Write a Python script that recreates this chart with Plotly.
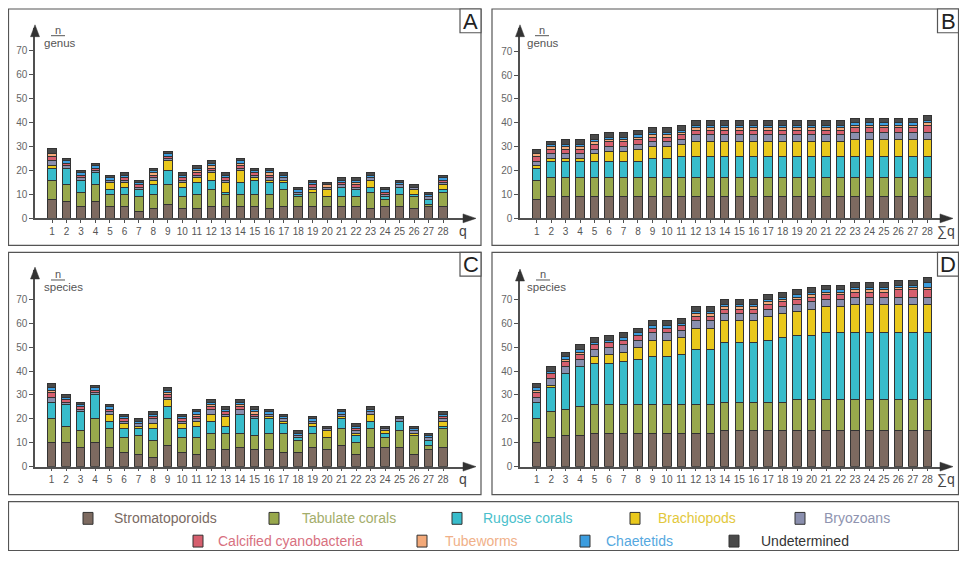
import plotly.graph_objects as go

# page has an 8px body margin; the figure is sized to fit the 967x565 window
OFF = 8
W, H = 951, 549
def fx(p): return (p - OFF) / W
def fy(p): return 1 - (p - OFF) / H

samples = list(range(1, 29))
tick_labels = [str(i) for i in samples]
y_ticks = [0, 10, 20, 30, 40, 50, 60, 70]

categories = ["Stromatoporoids", "Tabulate corals", "Rugose corals", "Brachiopods", "Bryozoans",
              "Calcified cyanobacteria", "Tubeworms", "Chaetetids", "Undetermined"]
bar_colors = ["#7d6a60", "#98a84c", "#38bccb", "#e9c81c", "#8a8fae",
              "#d65f6e", "#f3a979", "#3c9ddf", "#4a4a4a"]
text_colors = ["#7a6a62", "#a3ad6b", "#4bbfcc", "#e2c83c", "#8f94b0",
               "#d87080", "#f0b088", "#55a8e0", "#333333"]

# ---- Panel A: genus per sample (q)
A_strom = [8,7,5,7,5,5,3,4,6,4,4,5,5,5,5,4,5,5,5,5,5,5,4,5,5,4,5,5]
A_tab   = [8,7,6,7,5,5,6,6,8,5,6,7,5,5,5,6,7,4,6,4,4,4,7,3,5,5,1,6]
A_rug   = [5,7,5,5,2,3,3,4,6,4,5,4,1,5,6,5,3,1,0,0,4,3,2,1,3,1,2,1]
A_brach = [1,0,0,0,3,2,0,2,4,2,2,3,4,5,1,1,1,0,1,3,0,0,3,0,0,2,0,2]
A_bryo  = [2,1,1,1,1,1,1,1,1,1,1,1,1,1,1,1,1,1,1,1,1,1,1,1,1,1,1,1]
A_cyano = [2,1,1,1,0,1,1,1,1,1,1,1,1,1,1,1,0,0,1,0,1,1,0,1,0,0,0,1]
A_tube  = [1,0,0,0,0,0,0,1,0,0,1,1,0,1,0,1,0,0,0,1,0,1,0,0,0,0,0,0]
A_chaet = [0,1,1,1,1,1,1,1,1,1,1,1,1,1,1,1,1,1,1,0,1,1,1,1,1,0,1,1]
A_undet = [2,1,1,1,1,1,1,1,1,1,1,1,1,1,1,1,1,1,1,1,1,1,1,1,1,1,1,1]

# ---- Panel B: cumulative genus (sum q)
B_strom = [8,9,9,9,9,9,9,9,9,9,9,9,9,9,9,9,9,9,9,9,9,9,9,9,9,9,9,9]
B_tab   = [8,8,8,8,8,8,8,8,8,8,8,8,8,8,8,8,8,8,8,8,8,8,8,8,8,8,8,8]
B_rug   = [5,7,7,7,7,7,7,7,8,8,9,9,9,9,9,9,9,9,9,9,9,9,9,9,9,9,9,9]
B_brach = [1,1,1,1,3,4,4,5,5,5,5,6,6,6,6,6,6,6,6,6,6,6,7,7,7,7,7,7]
B_bryo  = [2,2,2,2,2,2,2,2,2,2,2,3,3,3,3,3,3,3,3,3,3,3,3,3,3,3,3,3]
B_cyano = [2,2,2,2,2,2,2,2,2,2,2,2,2,2,2,2,2,2,2,2,2,2,2,2,2,2,2,3]
B_tube  = [1,1,1,1,1,1,1,1,1,1,1,1,1,1,1,1,1,1,1,1,1,1,1,1,1,1,1,1]
B_chaet = [0,1,1,1,1,1,1,1,1,1,1,1,1,1,1,1,1,1,1,1,1,1,1,1,1,1,1,1]
B_undet = [2,1,2,2,2,2,2,2,2,2,2,2,2,2,2,2,2,2,2,2,2,2,2,2,2,2,2,2]

# ---- Panel C: species per sample (q)
C_strom = [10,10,8,10,8,6,5,4,9,6,5,7,7,8,7,7,6,6,8,7,9,5,8,8,8,5,7,8]
C_tab   = [10,7,7,10,8,6,8,7,11,6,7,7,7,6,6,7,8,5,6,5,7,5,8,4,7,8,2,8]
C_rug   = [7,9,8,10,3,4,3,5,5,4,5,5,3,8,7,6,4,1,3,0,4,3,3,2,4,0,2,1]
C_brach = [0,0,0,0,3,2,1,2,3,2,2,3,4,0,0,1,1,0,1,3,1,1,3,1,0,1,0,2]
C_bryo  = [2,1,1,1,1,1,1,2,1,1,1,2,1,2,1,1,1,1,1,1,1,1,1,1,1,1,1,1]
C_cyano = [2,1,1,1,1,1,0,1,1,1,1,1,1,1,1,0,0,0,0,0,0,1,0,0,0,0,0,1]
C_tube  = [1,0,0,0,0,0,0,0,1,0,1,1,0,1,1,0,0,0,0,0,0,0,0,0,0,0,0,0]
C_chaet = [1,1,1,1,1,1,1,1,1,1,1,1,1,1,1,1,1,1,1,0,1,1,1,0,0,1,1,1]
C_undet = [2,1,1,1,1,1,1,1,1,1,1,1,1,1,1,1,1,1,1,1,1,1,1,1,1,1,1,1]

# ---- Panel D: cumulative species (sum q)
D_strom = [10,12,13,13,14,14,14,14,14,14,14,14,14,15,15,15,15,15,15,15,15,15,15,15,15,15,15,15]
D_tab   = [10,11,11,12,12,12,12,12,12,12,12,12,12,12,12,12,12,12,13,13,13,13,13,13,13,13,13,13]
D_rug   = [7,10,15,17,17,17,18,19,20,20,21,23,23,25,25,25,26,27,27,27,28,28,28,28,28,28,28,28]
D_brach = [0,1,0,0,3,4,4,5,7,7,7,9,9,9,9,9,10,10,10,11,11,11,12,12,12,12,12,12]
D_bryo  = [2,3,3,3,3,3,3,3,3,3,3,3,3,3,3,3,3,3,3,3,3,3,3,3,3,3,3,3]
D_cyano = [2,2,2,2,2,2,2,2,2,2,2,2,2,2,2,2,2,2,2,2,2,2,2,2,2,3,3,3]
D_tube  = [1,0,1,1,0,0,0,0,0,0,0,1,1,1,1,1,1,1,1,1,1,1,1,1,1,1,1,1]
D_chaet = [1,1,1,1,1,1,1,1,1,1,1,1,1,1,1,1,1,1,1,1,1,1,1,1,1,1,1,2]
D_undet = [2,2,2,2,2,2,2,2,2,2,2,2,2,2,2,2,2,2,2,2,2,2,2,2,2,2,2,2]

panel_A = [A_strom, A_tab, A_rug, A_brach, A_bryo, A_cyano, A_tube, A_chaet, A_undet]
panel_B = [B_strom, B_tab, B_rug, B_brach, B_bryo, B_cyano, B_tube, B_chaet, B_undet]
panel_C = [C_strom, C_tab, C_rug, C_brach, C_bryo, C_cyano, C_tube, C_chaet, C_undet]
panel_D = [D_strom, D_tab, D_rug, D_brach, D_bryo, D_cyano, D_tube, D_chaet, D_undet]

FONT = "Liberation Sans, Arial, sans-serif"
AX = "#505050"

# panel geometry in window pixels
panels = [
    dict(name="A", data=panel_A, ax_x=35, ax_end=470, zero=220.7, tip=28, ppu=169.4/70,
         b1=52, b28=443, box=(8.5, 9, 481, 248), xt="q", xtx=469, word="genus", wx=42, nx=58, ny=30),
    dict(name="B", data=panel_B, ax_x=520, ax_end=947, zero=220.7, tip=28, ppu=169.0/70,
         b1=536.7, b28=927.3, box=(492, 9, 958.5, 248), xt="∑q", xtx=957, word="genus", wx=525, nx=542, ny=30),
    dict(name="C", data=panel_C, ax_x=35, ax_end=470, zero=471.7, tip=273, ppu=169.0/70,
         b1=51.5, b28=443, box=(8.5, 255, 481, 500), xt="q", xtx=469, word="species", wx=42, nx=58, ny=277),
    dict(name="D", data=panel_D, ax_x=520, ax_end=947, zero=471.7, tip=275, ppu=169.0/70,
         b1=536.7, b28=927.3, box=(492, 255, 958.5, 500), xt="∑q", xtx=957, word="species", wx=525, nx=543, ny=277),
]

fig = go.Figure()
layout_axes = {}
shapes = []
annotations = []

for i, p in enumerate(panels):
    suffix = "" if i == 0 else str(i + 1)
    xref, yref = "x" + suffix, "y" + suffix
    for cat, vals, col in zip(categories, p["data"], bar_colors):
        fig.add_trace(go.Bar(
            x=samples, y=vals, name=cat, xaxis=xref, yaxis=yref,
            marker=dict(color=col, line=dict(color="#333333", width=1)),
            width=0.58, showlegend=False))
    sp = (p["b28"] - p["b1"]) / 27
    r0 = 1 - (p["b1"] - p["ax_x"]) / sp
    r1 = 28 + (p["ax_end"] - p["b28"]) / sp
    ytop = (p["zero"] - p["tip"]) / p["ppu"]
    layout_axes["xaxis" + suffix] = dict(
        domain=[fx(p["ax_x"]), fx(p["ax_end"])], range=[r0, r1], anchor=yref,
        tickmode="array", tickvals=samples, ticktext=tick_labels,
        ticks="outside", ticklen=3, tickcolor=AX, showline=True, linecolor=AX, linewidth=1.5,
        showgrid=False, zeroline=False, tickfont=dict(size=10, color="#555555", family=FONT),
        fixedrange=True)
    layout_axes["yaxis" + suffix] = dict(
        domain=[fy(p["zero"]), fy(p["tip"])], range=[0, ytop], anchor=xref,
        tickmode="array", tickvals=y_ticks, ticks="outside", ticklen=4, tickcolor=AX,
        showline=True, linecolor=AX, linewidth=1.5, showgrid=False, zeroline=False,
        tickfont=dict(size=10, color="#666666", family=FONT), fixedrange=True)

    # panel border
    x0, y0, x1, y1 = p["box"]
    shapes.append(dict(type="rect", xref="paper", yref="paper", x0=fx(x0), x1=fx(x1),
                       y0=fy(y1), y1=fy(y0), line=dict(color="#555555", width=1.2)))
    # letter box
    shapes.append(dict(type="rect", xref="paper", yref="paper", x0=fx(x1 - 21), x1=fx(x1),
                       y0=fy(y0 + 24), y1=fy(y0), line=dict(color="#555555", width=1.2),
                       fillcolor="white"))
    annotations.append(dict(text=p["name"], xref="paper", yref="paper", x=fx(x1 - 10.5), y=fy(y0 + 12.5),
                            showarrow=False, font=dict(size=22, color="#222222", family=FONT),
                            xanchor="center", yanchor="middle"))
    # arrow heads
    ax, z, t, e = p["ax_x"], p["zero"], p["tip"], p["ax_end"]
    shapes.append(dict(type="path", xref="paper", yref="paper",
                       path=f"M {fx(ax)} {fy(t - 3)} L {fx(ax - 4.5)} {fy(t + 9)} L {fx(ax + 4.5)} {fy(t + 9)} Z",
                       fillcolor="#333333", line=dict(color="#333333", width=0.5)))
    shapes.append(dict(type="path", xref="paper", yref="paper",
                       path=f"M {fx(e + 6)} {fy(z)} L {fx(e - 7)} {fy(z - 4.5)} L {fx(e - 7)} {fy(z + 4.5)} Z",
                       fillcolor="#333333", line=dict(color="#333333", width=0.5)))
    # x axis title
    annotations.append(dict(text=p["xt"], xref="paper", yref="paper", x=fx(p["xtx"]), y=fy(z + 13),
                            showarrow=False, xanchor="right", yanchor="middle",
                            font=dict(size=14, color="#444444", family=FONT)))
    # y axis title (n / genus)
    annotations.append(dict(text="n", xref="paper", yref="paper", x=fx(p["nx"]), y=fy(p["ny"]),
                            showarrow=False, xanchor="center", yanchor="middle",
                            font=dict(size=11, color="#555555", family=FONT)))
    shapes.append(dict(type="line", xref="paper", yref="paper", x0=fx(p["nx"] - 7), x1=fx(p["nx"] + 7),
                       y0=fy(p["ny"] + 6), y1=fy(p["ny"] + 6), line=dict(color="#555555", width=1)))
    annotations.append(dict(text=p["word"], xref="paper", yref="paper", x=fx(p["wx"]), y=fy(p["ny"] + 13),
                            showarrow=False, xanchor="left", yanchor="middle",
                            font=dict(size=11.5, color="#555555", family=FONT)))

# legend box
shapes.append(dict(type="rect", xref="paper", yref="paper", x0=fx(8.5), x1=fx(958.5), y0=fy(556.5), y1=fy(507),
                   line=dict(color="#555555", width=1.2)))
legend_pos = [(88, 112, 524), (274, 300, 524), (457, 481, 524), (635, 656, 524), (800, 822, 524),
              (198, 216, 547), (422, 443, 547), (585, 604, 547), (734, 759, 547)]
for cat, col, tcol, (sx, tx, ty) in zip(categories, bar_colors, text_colors, legend_pos):
    shapes.append(dict(type="rect", xref="paper", yref="paper", x0=fx(sx - 5), x1=fx(sx + 5),
                       y0=fy(ty + 6), y1=fy(ty - 6), fillcolor=col, line=dict(color="#333333", width=1)))
    annotations.append(dict(text=cat, xref="paper", yref="paper", x=fx(tx), y=fy(ty),
                            showarrow=False, xanchor="left", yanchor="middle",
                            font=dict(size=14, color=tcol, family=FONT)))

fig.update_layout(
    width=W, height=H, margin=dict(l=0, r=0, t=0, b=0),
    paper_bgcolor="white", plot_bgcolor="white", barmode="stack",
    shapes=shapes, annotations=annotations, font=dict(family=FONT),
    **layout_axes)

fig.write_html("out.html")
